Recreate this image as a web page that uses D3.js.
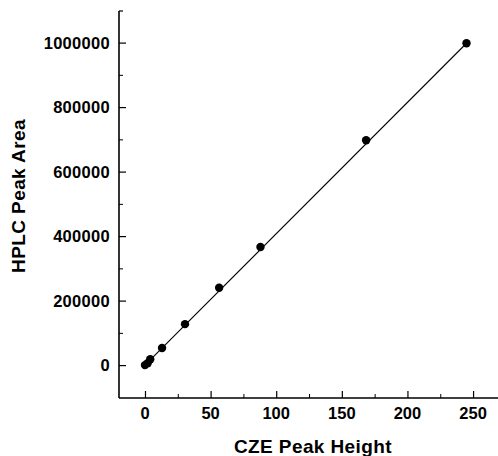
<!DOCTYPE html>
<html>
<head>
<meta charset="utf-8">
<script src="https://cdn.jsdelivr.net/npm/d3@7.9.0/dist/d3.min.js"></script>
<style>
  html, body { margin: 0; padding: 0; background: #fff; }
  svg { display: block; }
  text { font-family: "Liberation Sans", Arial, sans-serif; font-weight: bold; fill: #000; }
</style>
</head>
<body>
<div id="chart"></div>
<script>
// CZE peak height vs HPLC peak area
const czeHeight = [0, 2, 4, 13, 30.5, 56.5, 88, 168.5, 245];
const hplcArea = [0, 6000, 18000, 53000, 127000, 240000, 366000, 697000, 998000];
const fitX = [0, 245];
const fitY = [0, 998000];
const xTicks = [0, 50, 100, 150, 200, 250];
const xMinor = [25, 75, 125, 175, 225];
const yTicks = [0, 200000, 400000, 600000, 800000, 1000000];
const yMinor = [100000, 300000, 500000, 700000, 900000];

const width = 498;
const height = 456;
const area = { left: 119, right: 498, top: 11, bottom: 398 };

const svg = d3.select('#chart')
  .append('svg')
  .attr('width', width)
  .attr('height', height);

const xScale = d3.scaleLinear()
  .domain([-19.8, 269])
  .range([area.left, area.right]);

const yScale = d3.scaleLinear()
  .domain([-102000, 1098000])
  .range([area.bottom, area.top]);

// x axis, ticks pointing inward
svg.append('g')
  .attr('transform', `translate(0, ${area.bottom})`)
  .call(d3.axisTop(xScale).tickValues(xTicks).tickSize(7).tickFormat(''))
  .call(g => g.select('.domain').remove())
  .selectAll('line').attr('stroke', '#000').attr('stroke-width', 1.2);

svg.append('g')
  .attr('transform', `translate(0, ${area.bottom})`)
  .call(d3.axisTop(xScale).tickValues(xMinor).tickSize(4).tickFormat(''))
  .call(g => g.select('.domain').remove())
  .selectAll('line').attr('stroke', '#000').attr('stroke-width', 1);

svg.append('line')
  .attr('x1', area.left).attr('x2', area.right)
  .attr('y1', area.bottom).attr('y2', area.bottom)
  .attr('stroke', '#000').attr('stroke-width', 1.6);

svg.append('g')
  .selectAll('text')
  .data(xTicks)
  .join('text')
  .attr('x', d => xScale(d))
  .attr('y', 419)
  .attr('text-anchor', 'middle')
  .attr('font-size', 16.5)
  .text(d => d);

// y axis, ticks pointing inward
svg.append('g')
  .attr('transform', `translate(${area.left}, 0)`)
  .call(d3.axisRight(yScale).tickValues(yTicks).tickSize(7).tickFormat(''))
  .call(g => g.select('.domain').remove())
  .selectAll('line').attr('stroke', '#000').attr('stroke-width', 1.2);

svg.append('g')
  .attr('transform', `translate(${area.left}, 0)`)
  .call(d3.axisRight(yScale).tickValues(yMinor).tickSize(4).tickFormat(''))
  .call(g => g.select('.domain').remove())
  .selectAll('line').attr('stroke', '#000').attr('stroke-width', 1);

svg.append('line')
  .attr('x1', area.left).attr('x2', area.left)
  .attr('y1', area.top).attr('y2', area.bottom)
  .attr('stroke', '#000').attr('stroke-width', 1.6);

svg.append('line')
  .attr('x1', area.left).attr('x2', area.left + 4)
  .attr('y1', area.top).attr('y2', area.top)
  .attr('stroke', '#000').attr('stroke-width', 1.2);

svg.append('g')
  .selectAll('text')
  .data(yTicks)
  .join('text')
  .attr('x', 110)
  .attr('y', d => yScale(d))
  .attr('dy', '0.36em')
  .attr('text-anchor', 'end')
  .attr('font-size', 16.5)
  .attr('letter-spacing', 0.3)
  .text(d => d);

// fit line
svg.append('line')
  .attr('x1', xScale(fitX[0])).attr('y1', yScale(fitY[0]))
  .attr('x2', xScale(fitX[1])).attr('y2', yScale(fitY[1]))
  .attr('stroke', '#000').attr('stroke-width', 1.1);

// points
svg.append('g')
  .selectAll('circle')
  .data(czeHeight.map((x, i) => ({ x, y: hplcArea[i] })))
  .join('circle')
  .attr('cx', d => xScale(d.x))
  .attr('cy', d => yScale(d.y))
  .attr('r', 4.2)
  .attr('fill', '#000');

// axis titles
svg.append('text')
  .attr('x', 313)
  .attr('y', 453)
  .attr('text-anchor', 'middle')
  .attr('font-size', 19)
  .attr('letter-spacing', 0.4)
  .text('CZE Peak Height');

svg.append('text')
  .attr('transform', 'translate(25, 196) rotate(-90)')
  .attr('text-anchor', 'middle')
  .attr('font-size', 19)
  .attr('letter-spacing', 0.4)
  .text('HPLC Peak Area');
</script>
</body>
</html>
